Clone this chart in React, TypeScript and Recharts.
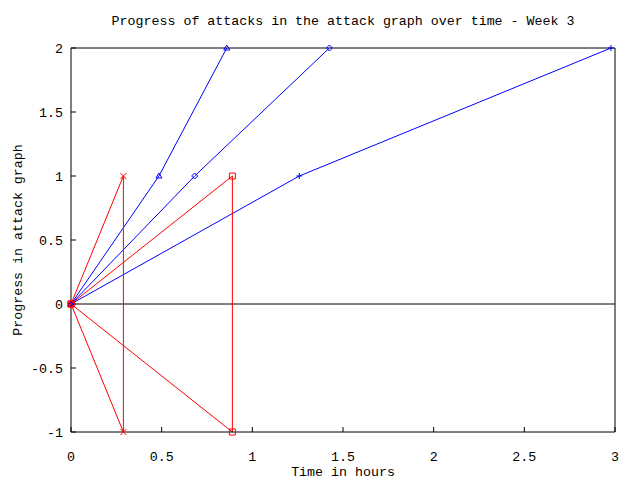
import React from 'react';
import { LineChart, Line, XAxis, YAxis, ReferenceLine } from 'recharts';

const xTicks = [0, 0.5, 1, 1.5, 2, 2.5, 3];
const yTicks = [-1, -0.5, 0, 0.5, 1, 1.5, 2];

const attackRedCross = [
  { x: 0, y: 0 },
  { x: 0.289, y: 1 },
  { x: 0.289, y: -1 },
  { x: 0, y: 0 },
];
const attackRedSquare = [
  { x: 0, y: 0 },
  { x: 0.89, y: 1 },
  { x: 0.89, y: -1 },
  { x: 0, y: 0 },
];
const attackBlueTriangle = [
  { x: 0, y: 0 },
  { x: 0.485, y: 1 },
  { x: 0.859, y: 2 },
];
const attackBlueDiamond = [
  { x: 0, y: 0 },
  { x: 0.682, y: 1 },
  { x: 1.425, y: 2 },
];
const attackBluePlus = [
  { x: 0, y: 0 },
  { x: 1.259, y: 1 },
  { x: 2.978, y: 2 },
];

const RED = '#ff0000';
const BLUE = '#0000ff';
const FONT = "'Liberation Mono', 'DejaVu Sans Mono', monospace";
const FS = 13.3;

const makeDot = (kind: string, color: string) => (p: any) => {
  const { cx, cy, index } = p;
  if (cx == null || cy == null) return <g key={index} />;
  const r = 3;
  let d = '';
  if (kind === 'cross') d = `M${cx - r},${cy - r}L${cx + r},${cy + r}M${cx - r},${cy + r}L${cx + r},${cy - r}`;
  if (kind === 'square') d = `M${cx - r},${cy - r}H${cx + r}V${cy + r}H${cx - r}Z`;
  if (kind === 'triangle') d = `M${cx},${cy - r}L${cx + r},${cy + 2}L${cx - r},${cy + 2}Z`;
  if (kind === 'diamond') d = `M${cx},${cy - r}L${cx + r},${cy}L${cx},${cy + r}L${cx - r},${cy}Z`;
  if (kind === 'plus') d = `M${cx - r},${cy}H${cx + r}M${cx},${cy - r}V${cy + r}`;
  return <path key={index} d={d} stroke={color} strokeWidth={1} fill="none" />;
};

const tickStyle = { fill: '#000', fontSize: FS, fontFamily: FONT };

const YLabel = (props: any) => {
  const vb = props.viewBox || {};
  const x = (vb.x ?? 70) - 52;
  const y = (vb.y ?? 48) + (vb.height ?? 384) / 2;
  return (
    <text x={x} y={y} transform={`rotate(-90 ${x} ${y})`} textAnchor="middle" dominantBaseline="central" fontSize={FS} fontFamily={FONT} fill="#000">
      Progress in attack graph
    </text>
  );
};

export default function App() {
  return (
    <div style={{ position: 'absolute', left: 0, top: 0, background: '#fff' }}>
      <LineChart width={640} height={480} margin={{ top: 47, right: 24, bottom: 47, left: 70 }}>
        <XAxis
          xAxisId={0}
          type="number"
          dataKey="x"
          domain={[0, 3]}
          ticks={xTicks}
          height={1}
          stroke="#000"
          tickSize={-5}
          tickMargin={25}
          tick={tickStyle}
          axisLine={{ stroke: '#000' }}
          tickLine={{ stroke: '#000' }}
          label={{ value: 'Time in hours', position: 'bottom', offset: 34, fill: '#000', fontSize: FS, fontFamily: FONT }}
        />
        <XAxis
          xAxisId="top"
          orientation="top"
          type="number"
          dataKey="x"
          domain={[0, 3]}
          ticks={xTicks}
          allowDataOverflow
          height={1}
          tickSize={-5}
          tick={false}
          axisLine={{ stroke: '#000' }}
          tickLine={{ stroke: '#000' }}
          label={{ value: 'Progress of attacks in the attack graph over time - Week 3', position: 'top', offset: 22, fill: '#000', fontSize: FS, fontFamily: FONT }}
        />
        <YAxis
          yAxisId={0}
          type="number"
          domain={[-1, 2]}
          ticks={yTicks}
          width={1}
          tickSize={-5}
          tickMargin={13}
          tick={tickStyle}
          axisLine={{ stroke: '#000' }}
          tickLine={{ stroke: '#000' }}
          label={<YLabel />}
        />
        <YAxis
          yAxisId="right"
          orientation="right"
          type="number"
          domain={[-1, 2]}
          ticks={yTicks}
          allowDataOverflow
          width={1}
          tickSize={-5}
          tick={false}
          axisLine={{ stroke: '#000' }}
          tickLine={{ stroke: '#000' }}
        />
        <ReferenceLine y={0} stroke="#000" strokeWidth={1} />
        <Line data={attackBluePlus} dataKey="y" stroke={BLUE} strokeWidth={1} dot={makeDot('plus', BLUE)} isAnimationActive={false} />
        <Line data={attackBlueDiamond} dataKey="y" stroke={BLUE} strokeWidth={1} dot={makeDot('diamond', BLUE)} isAnimationActive={false} />
        <Line data={attackBlueTriangle} dataKey="y" stroke={BLUE} strokeWidth={1} dot={makeDot('triangle', BLUE)} isAnimationActive={false} />
        <Line data={attackRedSquare} dataKey="y" stroke={RED} strokeWidth={1} dot={makeDot('square', RED)} isAnimationActive={false} />
        <Line data={attackRedCross} dataKey="y" stroke={RED} strokeWidth={1} dot={makeDot('cross', RED)} isAnimationActive={false} />
      </LineChart>
    </div>
  );
}
